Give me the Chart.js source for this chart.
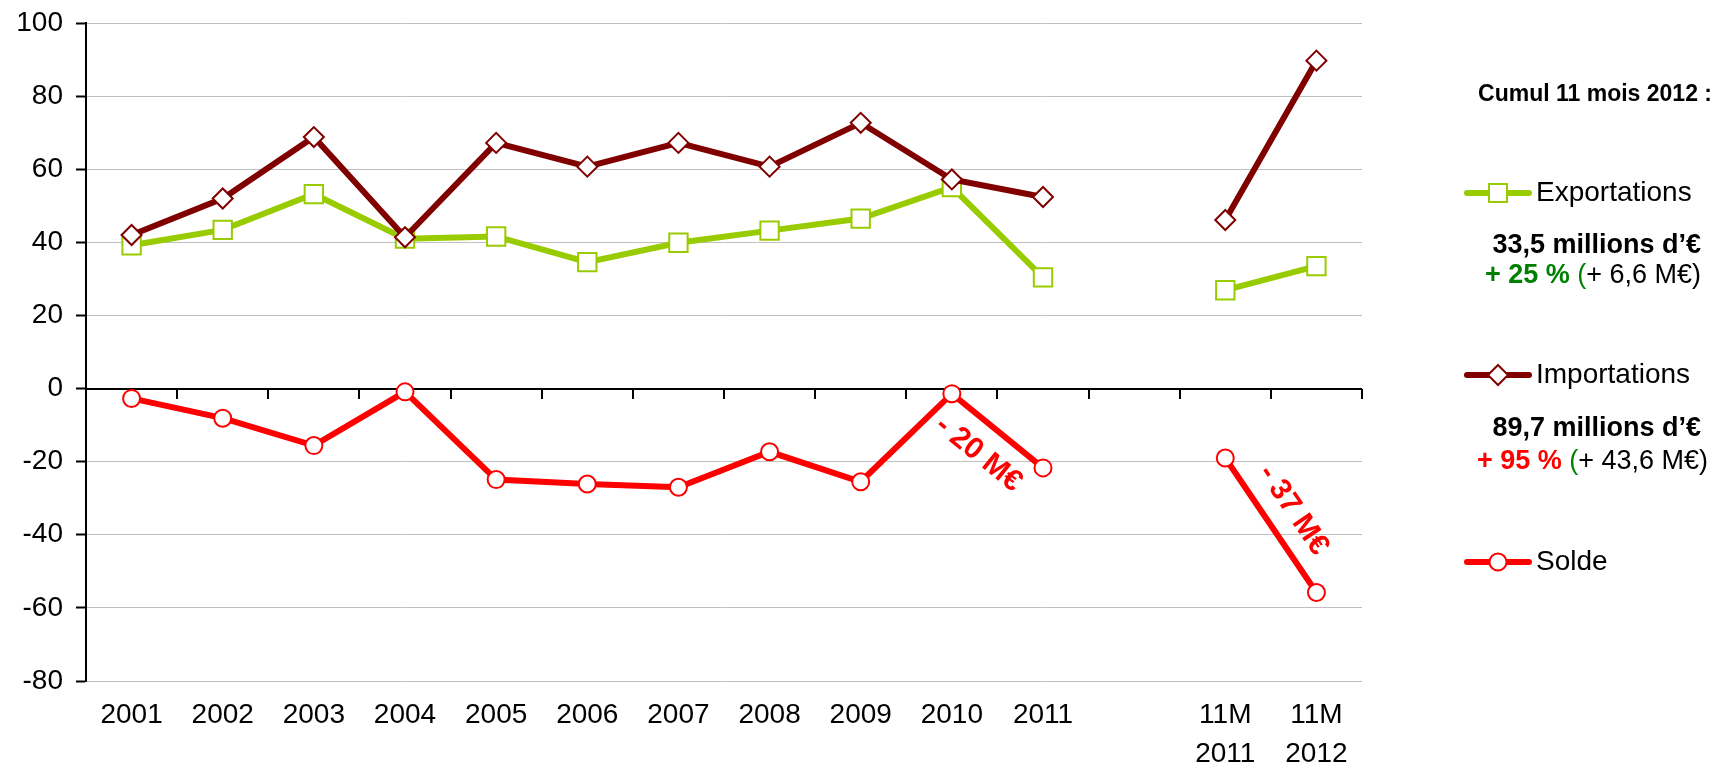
<!DOCTYPE html>
<html>
<head>
<meta charset="utf-8">
<script src="https://cdn.jsdelivr.net/npm/chart.js@4.4.0/dist/chart.umd.min.js"></script>
<style>
    body { margin: 0; background: #fff; }
    #wrap { width: 1716px; height: 768px; }
</style>
</head>
<body>
<div id="wrap"><canvas id="lineChart" width="1716" height="768"></canvas></div>
<script>
const categories = ["2001", "2002", "2003", "2004", "2005", "2006", "2007", "2008", "2009", "2010", "2011", "", ["11M", "2011"], ["11M", "2012"]];
const exportations = [39.2, 43.4, 53.2, 41.0, 41.6, 34.6, 39.9, 43.2, 46.5, 55.1, 30.4, null, 26.9, 33.5];
const importations = [42.0, 52.0, 68.8, 41.4, 67.2, 60.7, 67.2, 60.7, 72.7, 57.2, 52.4, null, 46.1, 89.7];
const solde = [-2.7, -8.1, -15.6, -0.9, -24.9, -26.1, -27.0, -17.3, -25.5, -1.4, -21.7, null, -19.0, -55.8];
const yTicks = [-80, -60, -40, -20, 0, 20, 40, 60, 80, 100];

const seriesNames = ["Exportations", "Importations", "Solde"];
const legendTitle = "Cumul 11 mois 2012 :";
const exportNote = ["33,5 millions d\u2019\u20ac", "+ 25 %", "(", "+ 6,6 M\u20ac)"];
const importNote = ["89,7 millions d\u2019\u20ac", "+ 95 %", "(", "+ 43,6 M\u20ac)"];

// annotations along the solde segments: text, from index, to index
const annotationText = ["- 20 M\u20ac", "- 37 M\u20ac"];
const annotationFrom = [9, 12];
const annotationTo = [10, 13];

const FONT = '"Liberation Sans", Arial, sans-serif';
const GREEN = '#99cc00';
const DARKRED = '#800000';
const RED = '#ff0000';

// black zero line with tick marks between the categories
const zeroLine = {
    id: 'zeroLine',
    beforeDatasetsDraw(chart) {
        const ctx = chart.ctx;
        const x = chart.scales.x;
        const y0 = Math.round(chart.scales.y.getPixelForValue(0));
        const area = chart.chartArea;
        ctx.save();
        ctx.strokeStyle = '#000';
        ctx.lineWidth = 2;
        ctx.beginPath();
        ctx.moveTo(area.left, y0);
        ctx.lineTo(area.right, y0);
        for (let i = 1; i < categories.length; i++) {
            const bx = Math.round((x.getPixelForValue(i - 1) + x.getPixelForValue(i)) / 2);
            ctx.moveTo(bx, y0);
            ctx.lineTo(bx, y0 + 10);
        }
        ctx.moveTo(area.right, y0);
        ctx.lineTo(area.right, y0 + 10);
        ctx.stroke();
        ctx.restore();
    }
};

const segmentLabels = {
    id: 'segmentLabels',
    afterDatasetsDraw(chart) {
        const ctx = chart.ctx;
        const xs = chart.scales.x;
        const ys = chart.scales.y;
        const offsets = [30, -27];
        ctx.save();
        ctx.font = 'bold 30px ' + FONT;
        ctx.fillStyle = RED;
        ctx.textAlign = 'center';
        ctx.textBaseline = 'middle';
        for (let i = 0; i < annotationText.length; i++) {
            const x1 = xs.getPixelForValue(annotationFrom[i]);
            const y1 = ys.getPixelForValue(solde[annotationFrom[i]]);
            const x2 = xs.getPixelForValue(annotationTo[i]);
            const y2 = ys.getPixelForValue(solde[annotationTo[i]]);
            const angle = Math.atan2(y2 - y1, x2 - x1);
            ctx.save();
            ctx.translate((x1 + x2) / 2, (y1 + y2) / 2);
            ctx.rotate(angle);
            ctx.fillText(annotationText[i], 0, offsets[i]);
            ctx.restore();
        }
        ctx.restore();
    }
};

const drawRuns = function (ctx, runs, right, y) {
    let x = right;
    for (let i = runs.length - 1; i >= 0; i--) {
        ctx.font = runs[i].font;
        const w = ctx.measureText(runs[i].text).width;
        x -= w;
        ctx.fillStyle = runs[i].color;
        ctx.fillText(runs[i].text, x, y);
    }
};

const drawMarker = function (ctx, style, color, cx, cy) {
    ctx.fillStyle = '#fff';
    ctx.strokeStyle = color;
    ctx.lineWidth = 2;
    ctx.beginPath();
    if (style === 'rect') {
        ctx.rect(cx - 9, cy - 9, 18, 18);
    } else if (style === 'rectRot') {
        ctx.moveTo(cx, cy - 10);
        ctx.lineTo(cx + 10, cy);
        ctx.lineTo(cx, cy + 10);
        ctx.lineTo(cx - 10, cy);
        ctx.closePath();
    } else {
        ctx.arc(cx, cy, 8.5, 0, Math.PI * 2);
    }
    ctx.fill();
    ctx.stroke();
};

const sideLegend = {
    id: 'sideLegend',
    afterDraw(chart) {
        const ctx = chart.ctx;
        ctx.save();
        ctx.textBaseline = 'middle';
        ctx.textAlign = 'left';

        ctx.font = 'bold 23px ' + FONT;
        ctx.fillStyle = '#000';
        const tw = ctx.measureText(legendTitle).width;
        ctx.fillText(legendTitle, 1712 - tw, 95);

        const rows = [
            { name: seriesNames[0], color: GREEN, style: 'rect', y: 193 },
            { name: seriesNames[1], color: DARKRED, style: 'rectRot', y: 375 },
            { name: seriesNames[2], color: RED, style: 'circle', y: 562 }
        ];
        rows.forEach(row => {
            ctx.strokeStyle = row.color;
            ctx.lineWidth = 6;
            ctx.lineCap = 'round';
            ctx.beginPath();
            ctx.moveTo(1467, row.y);
            ctx.lineTo(1529, row.y);
            ctx.stroke();
            drawMarker(ctx, row.style, row.color, 1498, row.y);
            ctx.font = '28px ' + FONT;
            ctx.fillStyle = '#000';
            ctx.fillText(row.name, 1536, row.y);
        });

        const bold = 'bold 27px ' + FONT;
        const reg = '27px ' + FONT;
        drawRuns(ctx, [{ text: exportNote[0], font: bold, color: '#000' }], 1701, 246);
        drawRuns(ctx, [
            { text: exportNote[1] + ' ', font: bold, color: '#008000' },
            { text: exportNote[2], font: reg, color: '#008000' },
            { text: exportNote[3], font: reg, color: '#000' }
        ], 1701, 276);
        drawRuns(ctx, [{ text: importNote[0], font: bold, color: '#000' }], 1701, 429);
        drawRuns(ctx, [
            { text: importNote[1] + ' ', font: bold, color: RED },
            { text: importNote[2], font: reg, color: '#008000' },
            { text: importNote[3], font: reg, color: '#000' }
        ], 1708, 462);
        ctx.restore();
    }
};

const makeSeries = function (label, data, color, style, radius) {
    return {
        label: label,
        data: data,
        borderColor: color,
        borderWidth: 6,
        tension: 0,
        spanGaps: false,
        pointStyle: style,
        pointRadius: radius,
        pointHoverRadius: radius,
        pointBackgroundColor: '#fff',
        pointBorderColor: color,
        pointBorderWidth: 2
    };
};

window.onload = () => {
    const ctx = document.getElementById('lineChart').getContext('2d');
    new Chart(ctx, {
        type: 'line',
        data: {
            labels: categories,
            datasets: [
                makeSeries(seriesNames[2], solde, RED, 'circle', 8.5),
                makeSeries(seriesNames[1], importations, DARKRED, 'rectRot', 10),
                makeSeries(seriesNames[0], exportations, GREEN, 'rect', 13)
            ]
        },
        options: {
            responsive: false,
            devicePixelRatio: 1,
            animation: false,
            layout: { padding: { top: 23, right: 354, bottom: 0, left: 0 } },
            plugins: {
                legend: { display: false },
                tooltip: { enabled: false }
            },
            scales: {
                x: {
                    offset: true,
                    grid: { display: false, drawTicks: false },
                    border: { display: false },
                    ticks: {
                        autoSkip: false,
                        maxRotation: 0,
                        minRotation: 0,
                        padding: 15,
                        color: '#000',
                        font: { family: FONT, size: 28, lineHeight: 1.39 }
                    },
                    afterFit: (scale) => { scale.height = 87; }
                },
                y: {
                    min: -80,
                    max: 100,
                    afterBuildTicks: (scale) => { scale.ticks = yTicks.map(v => ({ value: v })); },
                    grid: {
                        color: '#c0c0c0',
                        lineWidth: 1,
                        drawTicks: true,
                        tickLength: 10,
                        tickColor: '#000',
                        tickWidth: 2
                    },
                    border: { display: true, color: '#000', width: 2 },
                    ticks: {
                        padding: 13,
                        color: '#000',
                        font: { family: FONT, size: 28 },
                        callback: (v) => String(v)
                    },
                    afterFit: (scale) => {
                        scale.width = 86;
                        scale.paddingTop = 0;
                        scale.paddingBottom = 0;
                    }
                }
            }
        },
        plugins: [zeroLine, segmentLabels, sideLegend]
    });
};
</script>
</body>
</html>
